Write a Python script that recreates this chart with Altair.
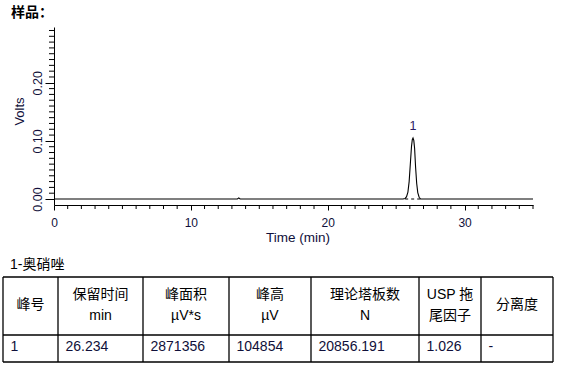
import altair as alt
import pandas as pd

# ---------------- data ----------------
trace_time = [0, 13.4, 13.5, 13.6, 25.5, 25.66, 25.76, 25.86, 25.95, 26.05, 26.12, 26.18,
              26.234, 26.29, 26.35, 26.42, 26.5, 26.58, 26.68, 26.79, 35]
trace_volts = [0, 0, 0.002, 0, 0, 0.001, 0.004, 0.012, 0.03, 0.065, 0.09, 0.102,
               0.105, 0.101, 0.087, 0.055, 0.027, 0.011, 0.003, 0, 0]

peak_time = [26.234]
peak_volts = [0.105]
peak_names = ["1"]
peak_start = [25.66]
peak_end = [26.79]

x_major = [0, 10, 20, 30]
x_minor = [t for t in range(36) if t % 10 != 0]
y_major = [0.0, 0.1, 0.2]
y_minor = [round(i / 100, 2) for i in range(1, 30) if i % 10 != 0]

title_text = "样品："
compound_text = "1-奥硝唑"
header_line1 = ["峰号", "保留时间", "峰面积", "峰高", "理论塔板数", "USP 拖", "分离度"]
header_line2 = ["", "min", "µV*s", "µV", "N", "尾因子", ""]
row_values = ["1", "26.234", "2871356", "104854", "20856.191", "1.026", "-"]

# ---------------- layout (page pixels) ----------------
W, H = 479, 178
PAD_L, PAD_T = 54, 27
PAGE_W, PAGE_H = 563, 373
col_edges = [3, 58, 143, 229, 311, 419, 481, 553]
row_lines = [277, 335, 362]
head_y1, head_y2, head_mid, data_y = 295, 315.7, 305, 347

FONT = "Liberation Sans"
FONT_MIX = "Liberation Sans, Noto Sans CJK SC"
INK = "#10103a"

xs = alt.Scale(domain=[0, 35], nice=False, zero=False)
ys = alt.Scale(domain=[-0.0103, 0.296], nice=False, zero=False)

x_axis = alt.Axis(values=x_major, title="Time (min)", grid=False, tickSize=5,
                  labelFlush=False, labelFontSize=12, labelFont=FONT, labelColor=INK,
                  labelBaseline="alphabetic", labelPadding=16.5,
                  titleFont=FONT, titleFontSize=13.5, titleFontWeight="normal", titleColor=INK,
                  titleX=243.5, titleY=36, titleBaseline="alphabetic", titleAlign="center",
                  domainColor="black", tickColor="black")
y_axis = alt.Axis(values=y_major, format=".2f", title="Volts", grid=False, tickSize=9,
                  labelAngle=270, labelAlign="center", labelBaseline="alphabetic",
                  labelPadding=4, labelFontSize=12.5, labelFont=FONT, labelColor=INK,
                  labelFlush=False,
                  titleFont=FONT, titleFontSize=13, titleFontWeight="normal", titleColor=INK,
                  titleAngle=270, titleX=-34.5, titleY=84, titleAlign="center",
                  titleBaseline="middle", domainColor="black", tickColor="black")

trace_df = pd.DataFrame({"t": trace_time, "v": trace_volts})
peak_df = pd.DataFrame({"t": peak_time, "v": peak_volts, "name": peak_names})
base_df = pd.DataFrame({"t": peak_start, "t2": peak_end, "v": [0.0]})
xminor_df = pd.DataFrame({"t": x_minor})
yminor_df = pd.DataFrame({"v": y_minor})

line = alt.Chart(trace_df).mark_line(color="black", strokeWidth=1.1).encode(
    x=alt.X("t:Q", scale=xs, axis=x_axis),
    y=alt.Y("v:Q", scale=ys, axis=y_axis),
)
dash = alt.Chart(base_df).mark_rule(color="black", strokeWidth=1, strokeDash=[3, 3]).encode(
    x="t:Q", x2="t2:Q", y="v:Q")
plabel = alt.Chart(peak_df).mark_text(dy=-8, baseline="alphabetic", fontSize=12.5, font=FONT,
                                      color="#2a1a60").encode(
    x="t:Q", y="v:Q", text="name:N")
xminor = alt.Chart(xminor_df).mark_rule(color="black", strokeWidth=1).encode(
    x="t:Q", y=alt.value(H), y2=alt.value(H + 4))
yminor = alt.Chart(yminor_df).mark_rule(color="black", strokeWidth=1).encode(
    y="v:Q", x=alt.value(-5), x2=alt.value(0))

plot = alt.layer(line, dash, xminor, yminor, plabel)

# ---------------- table in page-pixel scales ----------------
px = alt.Scale(domain=[0, PAGE_W], range=[-PAD_L, PAGE_W - PAD_L], nice=False, zero=False)
py = alt.Scale(domain=[0, PAGE_H], range=[-PAD_T, PAGE_H - PAD_T], nice=False, zero=False)

hl_df = pd.DataFrame({"x": [col_edges[0]] * len(row_lines),
                      "x2": [col_edges[-1]] * len(row_lines), "y": row_lines})
vl_df = pd.DataFrame({"x": col_edges, "y": [row_lines[0]] * len(col_edges),
                      "y2": [row_lines[-1]] * len(col_edges)})

centers = [(a + b) / 2 for a, b in zip(col_edges[:-1], col_edges[1:])]
head_rows = []
for c, l1, l2 in zip(centers, header_line1, header_line2):
    if l2:
        head_rows.append({"x": c, "y": head_y1, "s": l1})
        head_rows.append({"x": c, "y": head_y2, "s": l2})
    else:
        head_rows.append({"x": c, "y": head_mid, "s": l1})
head_df = pd.DataFrame(head_rows)
data_df = pd.DataFrame({"x": [e + 7.5 for e in col_edges[:-1]],
                        "y": [data_y] * len(row_values), "s": row_values})
label_df = pd.DataFrame({"x": [10], "y": [265], "s": [compound_text]})
title_df = pd.DataFrame({"x": [11], "y": [13], "s": [title_text]})

X = lambda f: alt.X(f, scale=px, axis=None)
Y = lambda f: alt.Y(f, scale=py, axis=None)

hlines = alt.Chart(hl_df).mark_rule(color="black", strokeWidth=1.3).encode(
    x=X("x:Q"), x2="x2:Q", y=Y("y:Q"))
vlines = alt.Chart(vl_df).mark_rule(color="black", strokeWidth=1.3).encode(
    x=X("x:Q"), y=Y("y:Q"), y2="y2:Q")
head_txt = alt.Chart(head_df).mark_text(align="center", baseline="middle", fontSize=14,
                                        font=FONT_MIX, color="black").encode(
    x=X("x:Q"), y=Y("y:Q"), text="s:N")
data_txt = alt.Chart(data_df).mark_text(align="left", baseline="middle", fontSize=14,
                                        font=FONT, color=INK).encode(
    x=X("x:Q"), y=Y("y:Q"), text="s:N")
cmp_txt = alt.Chart(label_df).mark_text(align="left", baseline="middle", fontSize=14,
                                        font=FONT_MIX, color="black").encode(
    x=X("x:Q"), y=Y("y:Q"), text="s:N")
ttl_txt = alt.Chart(title_df).mark_text(align="left", baseline="middle", fontSize=14,
                                        font=FONT_MIX, fontWeight="bold", color="black").encode(
    x=X("x:Q"), y=Y("y:Q"), text="s:N")

table = alt.layer(hlines, vlines, head_txt, data_txt, cmp_txt, ttl_txt)

chart = alt.layer(plot, table).resolve_scale(x="independent", y="independent").properties(
    width=W, height=H,
    autosize=alt.AutoSizeParams(type="none"),
    padding={"left": PAD_L, "top": PAD_T, "right": PAGE_W - PAD_L - W, "bottom": PAGE_H - PAD_T - H},
    background="white",
).configure_view(strokeWidth=0)

chart.save("out.html", embed_options={"renderer": "svg", "actions": False})
